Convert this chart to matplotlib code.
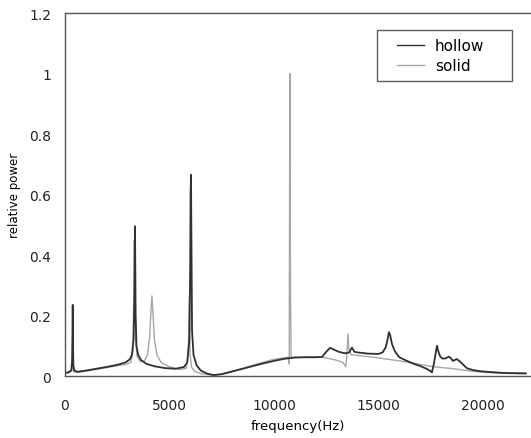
import matplotlib
matplotlib.use("Agg")
import matplotlib.pyplot as plt
from matplotlib.legend_handler import HandlerLine2D

# spectrum, frequency in Hz / relative power
hollow_f = [0, 150, 300, 340, 360, 370, 380, 400, 450, 600, 1000, 1500, 2000,
            2500, 2900, 3100, 3200, 3280, 3320, 3340, 3350, 3360, 3380, 3420,
            3500, 3650, 3900, 4300, 4800, 5300, 5700, 5850, 5950, 5990, 6010,
            6030, 6050, 6080, 6150, 6300, 6500, 6800, 7100, 7500, 8000, 8500,
            9000, 9500, 10000, 10500, 11000, 11500, 12000, 12300, 12500, 12680,
            12850, 13100, 13400, 13600, 13730, 13850, 14000, 14500, 15000,
            15200, 15350, 15450, 15500, 15560, 15650, 15800, 16000, 16300,
            16700, 17000, 17300, 17500, 17560, 17650, 17750, 17800, 17850,
            17950, 18050, 18200, 18370, 18480, 18560, 18750, 18900, 19230,
            19500, 19860, 20200, 21000, 22050]
hollow_p = [0.010, 0.012, 0.018, 0.050, 0.150, 0.235, 0.120, 0.035, 0.018,
            0.014, 0.018, 0.024, 0.030, 0.037, 0.045, 0.055, 0.070, 0.120,
            0.250, 0.420, 0.495, 0.400, 0.200, 0.100, 0.070, 0.052, 0.040,
            0.032, 0.026, 0.024, 0.030, 0.045, 0.120, 0.350, 0.600, 0.665,
            0.450, 0.150, 0.070, 0.035, 0.018, 0.008, 0.003, 0.006, 0.015,
            0.024, 0.033, 0.042, 0.050, 0.057, 0.061, 0.062, 0.062, 0.063,
            0.080, 0.093, 0.088, 0.080, 0.075, 0.078, 0.094, 0.080, 0.078,
            0.074, 0.073, 0.078, 0.095, 0.125, 0.145, 0.135, 0.105, 0.080,
            0.062, 0.052, 0.040, 0.033, 0.024, 0.016, 0.012, 0.040, 0.080,
            0.100, 0.085, 0.065, 0.058, 0.058, 0.064, 0.058, 0.050, 0.056,
            0.048, 0.026, 0.020, 0.016, 0.014, 0.010, 0.009]

solid_f = [0, 200, 340, 370, 390, 420, 600, 1000, 1500, 2000, 2500, 2900, 3150,
           3250, 3300, 3320, 3340, 3380, 3450, 3600, 3800, 3950, 4050, 4120,
           4160, 4200, 4280, 4400, 4600, 5000, 5500, 5800, 5900, 5950, 5980,
           6050, 6200, 6500, 7000, 7300, 7800, 8500, 9200, 10000, 10500,
           10700, 10730, 10760, 10790, 10820, 10900, 11500, 12000, 12500,
           13000, 13300, 13440, 13500, 13540, 13580, 13700, 14000, 14500,
           15000, 16000, 16800, 17500, 18000, 18500, 19000, 20000, 21000,
           22050]
solid_p = [0.010, 0.011, 0.020, 0.080, 0.030, 0.013, 0.012, 0.016, 0.022,
           0.028, 0.034, 0.038, 0.045, 0.080, 0.300, 0.450, 0.300, 0.120,
           0.065, 0.048, 0.050, 0.070, 0.130, 0.220, 0.265, 0.220, 0.120,
           0.070, 0.045, 0.030, 0.022, 0.025, 0.080, 0.260, 0.080, 0.030,
           0.015, 0.008, 0.004, 0.004, 0.012, 0.025, 0.040, 0.055, 0.060,
           0.062, 0.040, 1.000, 0.300, 0.062, 0.062, 0.063, 0.064, 0.060,
           0.052, 0.045, 0.030, 0.080, 0.140, 0.090, 0.070, 0.068, 0.064,
           0.060, 0.050, 0.041, 0.032, 0.028, 0.025, 0.020, 0.012, 0.009,
           0.007]


class PaddedLine(HandlerLine2D):
    # legend line that leaves some empty room on its left
    def create_artists(self, legend, orig_handle, xdescent, ydescent,
                       width, height, fontsize, trans):
        artists = super().create_artists(legend, orig_handle, xdescent,
                                         ydescent, width, height, fontsize,
                                         trans)
        line = artists[0]
        xs = line.get_xdata()
        ys = line.get_ydata()
        x0, x1 = xs[0], xs[-1]
        line.set_data([x0 + (x1 - x0) * 0.29, x1], [ys[0], ys[0]])
        return artists


fig = plt.figure(figsize=(5.31, 4.39), dpi=100)
ax = fig.add_axes([0.1224, 0.1412, 0.8776, 0.8269])

ax.plot(solid_f, solid_p, color="#a6a6a6", linewidth=1.0, label="solid")
ax.plot(hollow_f, hollow_p, color="#303030", linewidth=1.3, label="hollow")

ax.set_xlim(0, 22300)
ax.set_ylim(0, 1.2)
ax.set_xticks([0, 5000, 10000, 15000, 20000])
ax.set_yticks([0, 0.2, 0.4, 0.6, 0.8, 1.0, 1.2])
ax.set_yticklabels(["0", "0.2", "0.4", "0.6", "0.8", "1", "1.2"])
ax.tick_params(length=0, labelsize=10, colors="#222222")
ax.tick_params(axis="x", pad=16)
ax.tick_params(axis="y", pad=10)

for side in ["left", "top", "bottom"]:
    ax.spines[side].set_color("#555555")
    ax.spines[side].set_linewidth(1.0)
ax.spines["right"].set_visible(False)

ax.set_xlabel("frequency(Hz)", fontsize=9.5, labelpad=5)
ax.set_ylabel("relative power", fontsize=8.5, labelpad=6)

handles, labels = ax.get_legend_handles_labels()
leg = ax.legend(handles[::-1], labels[::-1], loc="upper left",
                bbox_to_anchor=(0.6695, 0.0, 0.2897, 0.953), mode="expand",
                fontsize=11, frameon=True,
                fancybox=False, handlelength=2.55, labelspacing=0.3,
                borderpad=0.55, handletextpad=0.7, borderaxespad=0,
                handler_map={h: PaddedLine() for h in handles})
leg.get_frame().set_edgecolor("#333333")
leg.get_frame().set_linewidth(1.0)
for line in leg.get_lines():
    line.set_linewidth(1.0)

plt.savefig("out.png", dpi=100)
